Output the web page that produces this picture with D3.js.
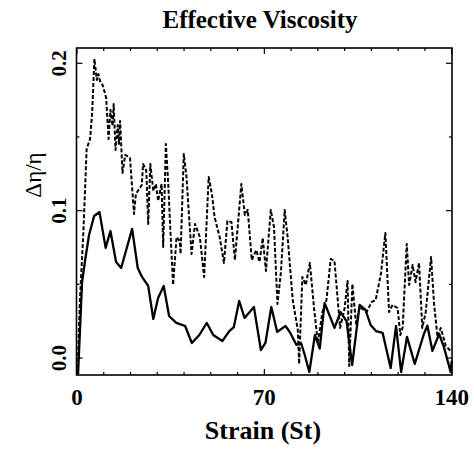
<!DOCTYPE html>
<html>
<head>
<meta charset="utf-8">
<script src="https://cdn.jsdelivr.net/npm/d3@7"></script>
<style>
  body { margin: 0; background: #fff; }
  svg { display: block; }
  .lbl { font-family: "Liberation Serif", "Times New Roman", serif; font-weight: bold; fill: #000; }
</style>
</head>
<body>
<div id="chart"></div>
<script>
// strain (St) / delta eta over eta
var solidStrain = [0.4, 1.9, 3.0, 4.5, 6.4, 8.4, 10.7, 12.5, 14.6, 16.5, 20.6, 22.7, 24.3, 26.6, 28.5, 30.3, 32.4, 34.4, 37.1, 40.4, 42.9, 45.7, 48.5, 50.9, 54.3, 56.9, 58.6, 60.6, 62.6, 66.1, 68.7, 70.4, 72.6, 74.8, 77.9, 79.7, 82.0, 83.7, 85.0, 86.8, 88.9, 90.7, 92.5, 94.3, 96.2, 98.5, 100.7, 102.8, 105.6, 107.8, 109.7, 111.7, 114.2, 117.2, 119.2, 121.1, 123.3, 126.2, 129.6, 130.9, 132.8, 135.3, 137.1, 139.6, 140];
var solidValue = [-0.0109, 0.0516, 0.0659, 0.0835, 0.0964, 0.0991, 0.0747, 0.0862, 0.0652, 0.0611, 0.0876, 0.0611, 0.0550, 0.0489, 0.0265, 0.0407, 0.0489, 0.0285, 0.0238, 0.0217, 0.0102, 0.0156, 0.0238, 0.0156, 0.0115, 0.0183, 0.0210, 0.0387, 0.0272, 0.0346, 0.0054, 0.0102, 0.0346, 0.0177, 0.0217, 0.0170, 0.0088, 0.0102, 0.0027, -0.0095, 0.0156, 0.0064, 0.0373, 0.0292, 0.0204, 0.0312, 0.0251, -0.0048, 0.0360, 0.0326, 0.0224, 0.0183, 0.0170, -0.0068, 0.0217, -0.0095, 0.0143, -0.0040, 0.0163, 0.0220, 0.0048, 0.0163, 0.0074, -0.0095, -0.0020];

var dashStrain = [0.2, 1.1, 2.4, 3.6, 4.9, 5.7, 6.5, 7.4, 8.0, 8.6, 9.7, 10.9, 11.8, 12.5, 13.3, 13.7, 14.4, 15.2, 15.7, 16.1, 17.0, 18.0, 19.8, 21.3, 22.0, 23.0, 24.2, 24.7, 25.9, 26.6, 27.4, 28.5, 29.5, 30.3, 31.6, 32.2, 33.2, 34.1, 34.9, 35.9, 37.2, 38.4, 38.7, 39.9, 40.9, 42.8, 44.1, 45.9, 47.5, 49.2, 50.4, 51.4, 53.3, 54.9, 56.2, 57.7, 59.0, 61.4, 62.7, 63.8, 65.3, 67.0, 68.2, 69.4, 70.6, 72.4, 73.6, 74.9, 76.2, 77.6, 78.7, 80.6, 82.5, 83.0, 84.2, 85.5, 87.0, 88.6, 90.0, 91.7, 93.2, 94.8, 96.2, 98.3, 100.0, 101.1, 101.7, 102.9, 104.3, 105.6, 108.2, 110.1, 111.6, 113.6, 115.2, 116.6, 117.9, 119.8, 120.8, 121.7, 123.2, 124.1, 125.4, 126.5, 127.8, 129.0, 130.3, 132.3, 133.4, 134.7, 135.9, 137.8, 140];
var dashValue = [-0.0109, 0.0394, 0.0862, 0.1419, 0.1487, 0.1677, 0.2030, 0.1887, 0.1928, 0.1880, 0.1847, 0.1765, 0.1487, 0.1684, 0.1575, 0.1724, 0.1412, 0.1582, 0.1453, 0.1609, 0.1256, 0.1378, 0.1358, 0.0978, 0.1113, 0.1141, 0.1174, 0.1317, 0.1270, 0.0910, 0.1317, 0.1134, 0.1181, 0.1066, 0.1181, 0.0754, 0.1453, 0.1181, 0.0862, 0.0496, 0.0821, 0.0794, 0.0706, 0.1385, 0.1229, 0.0706, 0.0910, 0.0821, 0.0550, 0.1229, 0.1113, 0.0957, 0.0821, 0.0645, 0.0930, 0.0923, 0.0665, 0.1181, 0.0971, 0.1005, 0.0665, 0.0733, 0.0652, 0.0815, 0.0591, 0.1005, 0.0889, 0.0367, 0.0584, 0.1005, 0.0821, 0.0394, 0.0190, -0.0041, 0.0550, 0.0496, 0.0645, 0.0333, 0.0102, 0.0312, 0.0394, 0.0672, 0.0659, 0.0204, 0.0339, 0.0523, -0.0054, 0.0502, 0.0224, 0.0346, 0.0312, 0.0380, 0.0394, 0.0577, 0.0849, 0.0312, 0.0360, 0.0339, 0.0156, 0.0210, 0.0774, 0.0496, 0.0631, 0.0516, 0.0645, 0.0204, 0.0312, 0.0686, 0.0367, 0.0143, 0.0204, 0.0081, 0.0041];

var xLabels = [0, 70, 140];
var xTicks = [0, 10, 20, 30, 40, 50, 60, 70, 80, 90, 100, 110, 120, 130, 140];
var yLabels = [0, 0.1, 0.2];
var yTicks = [0, 0.05, 0.1, 0.15, 0.2];

var width = 474, height = 449;
// frame edges (top/left are taken by window, so prefix them)
var fLeft = 76.5, fRight = 452, fTop = 48, fBottom = 375;

var x = d3.scaleLinear().domain([0, 140]).range([77, 451.7]);
var y = d3.scaleLinear().domain([0, 0.2]).range([358, 63.3]);

var svg = d3.select("#chart").append("svg")
  .attr("width", width)
  .attr("height", height);

svg.append("text")
  .attr("class", "lbl")
  .attr("x", 260)
  .attr("y", 28)
  .attr("text-anchor", "middle")
  .style("font-size", "25px")
  .text("Effective Viscosity");

var plot = svg.append("g");

var line = d3.line()
  .x(function(d) { return x(d[0]); })
  .y(function(d) { return y(d[1]); });

plot.append("path")
  .datum(dashStrain.map(function(s, i) { return [s, dashValue[i]]; }))
  .attr("d", line)
  .attr("fill", "none")
  .attr("stroke", "#000")
  .attr("stroke-width", 2)
  .attr("stroke-dasharray", "4,2")
  .attr("stroke-linejoin", "round");

plot.append("path")
  .datum(solidStrain.map(function(s, i) { return [s, solidValue[i]]; }))
  .attr("d", line)
  .attr("fill", "none")
  .attr("stroke", "#000")
  .attr("stroke-width", 2.3)
  .attr("stroke-linejoin", "round");

// frame
svg.append("rect")
  .attr("x", fLeft).attr("y", fTop)
  .attr("width", fRight - fLeft).attr("height", fBottom - fTop)
  .attr("fill", "none")
  .attr("stroke", "#000")
  .attr("stroke-width", 1.6);

// inward ticks on all four sides
var tk = svg.append("g").attr("stroke", "#000").attr("stroke-width", 1.2);
xTicks.forEach(function(t) {
  var len = xLabels.indexOf(t) >= 0 ? 6 : 3;
  tk.append("line").attr("x1", x(t)).attr("x2", x(t)).attr("y1", fBottom).attr("y2", fBottom - len);
  tk.append("line").attr("x1", x(t)).attr("x2", x(t)).attr("y1", fTop).attr("y2", fTop + len);
});
yTicks.forEach(function(t) {
  var len = yLabels.indexOf(t) >= 0 ? 6 : 3;
  tk.append("line").attr("x1", fLeft).attr("x2", fLeft + len).attr("y1", y(t)).attr("y2", y(t));
  tk.append("line").attr("x1", fRight).attr("x2", fRight - len).attr("y1", y(t)).attr("y2", y(t));
});

svg.selectAll(".xl").data(xLabels).enter().append("text")
  .attr("class", "lbl")
  .attr("x", function(d) { return x(d); })
  .attr("y", 405)
  .attr("text-anchor", "middle")
  .style("font-size", "23px")
  .text(function(d) { return d; });

svg.selectAll(".yl").data(yLabels).enter().append("text")
  .attr("class", "lbl")
  .attr("transform", function(d) { return "translate(66," + y(d) + ") rotate(-90)"; })
  .attr("text-anchor", "middle")
  .style("font-size", "21px")
  .text(function(d) { return d3.format(".1f")(d); });

svg.append("text")
  .attr("class", "lbl")
  .attr("x", 263)
  .attr("y", 439)
  .attr("text-anchor", "middle")
  .style("font-size", "26px")
  .text("Strain (St)");

svg.append("text")
  .attr("transform", "translate(41,175) rotate(-90)")
  .attr("text-anchor", "middle")
  .style("font-family", "'Liberation Serif', serif")
  .style("font-size", "23px")
  .text("Δη/η");
</script>
</body>
</html>
